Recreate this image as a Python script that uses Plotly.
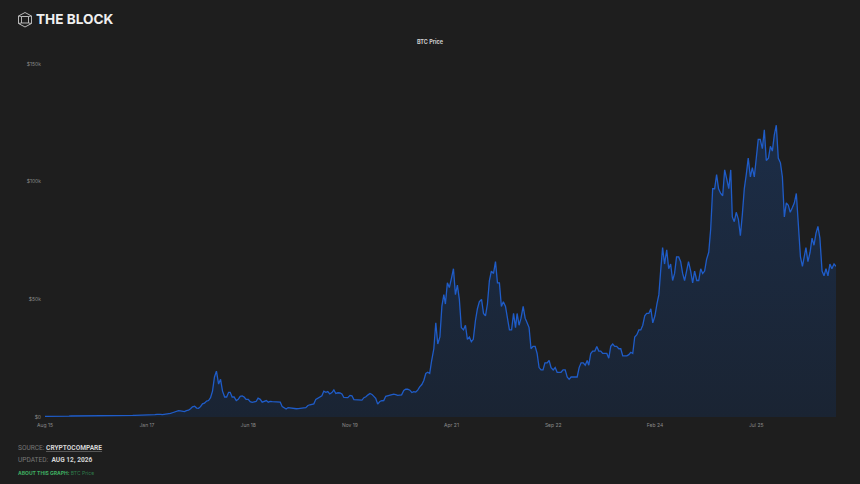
import plotly.graph_objects as go

# BTC price in $k, three readings per month (1st, 11th, 21st), Aug 2015 onward
price_2015 = [0.27, 0.26, 0.23, 0.23, 0.24, 0.23, 0.24, 0.25, 0.28, 0.33, 0.34, 0.32, 0.36, 0.43, 0.43]
price_2016 = [0.43, 0.43, 0.38, 0.37, 0.38, 0.44, 0.43, 0.41, 0.41, 0.42, 0.42, 0.45, 0.45, 0.45, 0.45, 0.54, 0.6, 0.65,
              0.67, 0.66, 0.66, 0.6, 0.58, 0.58, 0.61, 0.61, 0.6, 0.61, 0.62, 0.65, 0.7, 0.71, 0.74, 0.75, 0.78, 0.9]
price_2017 = [1.0, 0.8, 0.9, 1.0, 1.0, 1.15, 1.25, 1.1, 1.0, 1.1, 1.2, 1.25, 1.5, 1.8, 2.2, 2.5, 2.7, 2.6,
              2.5, 2.3, 2.7, 2.9, 3.5, 4.3, 4.6, 3.8, 3.7, 4.4, 5.6, 5.9, 6.8, 7.0, 8.2, 11, 17, 19.5]
price_2018 = [14, 16, 11, 8.5, 8.5, 10.5, 10.5, 8.5, 8.5, 7, 7.5, 8.8, 9, 8.5, 7.5, 7.5, 6.5, 6.2,
              6.4, 6.6, 8, 7.5, 6.3, 6.7, 7, 6.3, 6.6, 6.5, 6.4, 6.4, 6.4, 6.3, 4.4, 3.9, 3.4, 4]
price_2019 = [3.8, 3.6, 3.5, 3.5, 3.6, 3.8, 3.8, 3.9, 4, 4.9, 5.2, 5.4, 5.6, 7.5, 8, 8.5, 9, 11,
              10.5, 10.8, 9.8, 10.4, 11.5, 10, 10.3, 10.2, 9.8, 8.3, 8.3, 8.2, 9.2, 9, 7.4, 7.3, 7.2, 7.2]
price_2020 = [7.2, 8.2, 8.6, 9.4, 10, 9.6, 8.8, 7.9, 5.5, 6.6, 6.9, 7, 8.8, 9, 9.2, 9.5, 9.7, 9.5,
              9.2, 9.3, 9.4, 11.3, 11.8, 11.8, 11.4, 10.4, 10.8, 10.6, 11.4, 12.8, 13.8, 15.5, 18.5, 19, 18.5, 24]
price_2021 = [29, 40, 31, 34, 47, 52, 48, 57, 55, 59, 63, 52, 56, 50, 38, 37, 39, 33,
              34, 32, 33, 41, 46, 49, 50, 44, 43, 48, 58, 62, 61, 66, 57, 57, 47, 49]
price_2022 = [47, 42, 37, 37, 44, 38, 44, 39, 42, 47, 42, 40, 38, 29, 30, 30, 27, 21,
              20, 20, 23, 23, 24, 21, 20, 21, 19, 19, 19, 20, 20, 17, 16, 17, 17, 17]
price_2023 = [17, 21, 23, 23, 22, 24, 22, 27, 28, 28, 30, 28, 28, 27, 27, 27, 25, 30,
              31, 30, 30, 29, 29, 26, 26, 26, 26.5, 27.5, 27, 34, 35, 37, 37, 39, 43, 44]
price_2024 = [44, 46, 40, 43, 48, 52, 62, 72, 65, 71, 63, 65, 58, 61, 68, 68, 66, 61,
              58, 62, 66, 62, 57, 62, 58, 58, 63, 61, 62, 67, 70, 80, 97, 97, 103, 97]
price_2025 = [95, 94, 105, 101, 97, 105, 85, 83, 87, 84, 77, 86, 97, 103, 110, 102, 106, 102,
              109, 118, 118, 114, 122, 109, 110, 115, 113, 120, 124, 110, 108, 102, 85, 91, 90, 87]
price_2026 = [89, 91, 95, 78, 68, 64, 68, 72, 66, 70, 76, 73, 78, 81, 76, 62, 60, 63, 60, 65, 63, 65, 64]

price = (price_2015 + price_2016 + price_2017 + price_2018 + price_2019 + price_2020
         + price_2021 + price_2022 + price_2023 + price_2024 + price_2025 + price_2026)

dates = []
year, month = 2015, 8
while len(dates) < len(price):
    for day in (1, 11, 21):
        dates.append(f"{year}-{month:02d}-{day:02d}")
    month += 1
    if month > 12:
        year, month = year + 1, 1
dates = dates[:len(price)]

x_ticks = ["2015-08-01", "2017-01-01", "2018-06-01", "2019-11-01", "2021-04-01", "2022-09-01", "2024-02-01", "2025-07-01"]
x_labels = ["Aug 15", "Jan 17", "Jun 18", "Nov 19", "Apr 21", "Sep 22", "Feb 24", "Jul 25"]
y_ticks = [0, 50, 100, 150]
y_labels = ["$0", "$50k", "$100k", "$150k"]

BG = "#1e1e1e"
FONT = "Inter, Roboto, sans-serif"

fig = go.Figure()
fig.add_trace(go.Scatter(x=dates, y=price, mode="lines",
                         line=dict(color="#1f5cc8", width=1.3),
                         fill="tozeroy",
                         fillgradient=dict(type="vertical",
                                           colorscale=[[0, "#1a2433"], [1, "#1c2d47"]])))

fig.update_layout(
    width=860, height=484,
    paper_bgcolor=BG, plot_bgcolor=BG,
    margin=dict(l=45, r=24, t=64, b=67),
    showlegend=False,
    hovermode=False,
    font=dict(family=FONT, color="#8a8a8a", size=5),
    xaxis=dict(type="date", range=["2015-08-01", "2026-08-11"], tickvals=x_ticks, ticktext=x_labels,
               showgrid=False, zeroline=False, showline=False, ticks="", ticklabelstandoff=4,
               tickfont=dict(size=5, color="#8a8a8a")),
    yaxis=dict(range=[0, 150], tickvals=y_ticks, ticktext=y_labels,
               showgrid=False, zeroline=False, showline=False, ticks="", ticklabelstandoff=3,
               tickfont=dict(size=5, color="#8a8a8a")),
)

# pixel helpers, the notes and logo are placed on the page rather than on the axes
px = lambda v: (v - 45) / (860 - 45 - 24)
py = lambda v: (484 - 67 - v) / (484 - 64 - 67)

def note(x, y, text, size, color, anchor="left", family=FONT):
    fig.add_annotation(xref="paper", yref="paper", xanchor=anchor, yanchor="middle",
                       x=px(x), y=py(y), text=text, showarrow=False,
                       borderpad=0, borderwidth=0,
                       font=dict(size=size, color=color, family=family))

note(430, 41, "<b>BTC Price</b>", 5.5, "#cfcfcf", "center")
note(36, 19.5, "<b>THE BLOCK</b>", 13.6, "#f0f0f0")
note(18, 448, "SOURCE: <b><u><span style='color:#d5d5d5'>CRYPTOCOMPARE</span></u></b>", 6.6, "#777777", family="Roboto")
note(18, 459.5, "UPDATED: <b><span style='color:#d5d5d5'> AUG 12, 2026</span></b>", 6.6, "#777777", family="Roboto")
note(18, 472.5, "<b>ABOUT THIS GRAPH:</b> <span style='color:#2f7d4c'>BTC Price</span>", 5, "#3fae62")

# logo cube, pixel outlines on the page
logo = [
    [(25, 12.5), (31.5, 16), (31.5, 23.5), (25, 27), (18.5, 23.5), (18.5, 16), (25, 12.5)],
    [(21.5, 16.5), (28.5, 16.5), (28.5, 23), (21.5, 23), (21.5, 16.5)],
    [(18.5, 16), (21.5, 16.5)], [(31.5, 16), (28.5, 16.5)],
    [(31.5, 23.5), (28.5, 23)], [(18.5, 23.5), (21.5, 23)],
]
for outline in logo:
    path = "M " + " L ".join(f"{px(a):.5f} {py(b):.5f}" for a, b in outline)
    fig.add_shape(type="path", xref="paper", yref="paper", path=path,
                  line=dict(color="#c8c8c8", width=0.9))

fig.write_html("out.html", config={"displayModeBar": False},
               post_script="document.body.style.margin='0';")
